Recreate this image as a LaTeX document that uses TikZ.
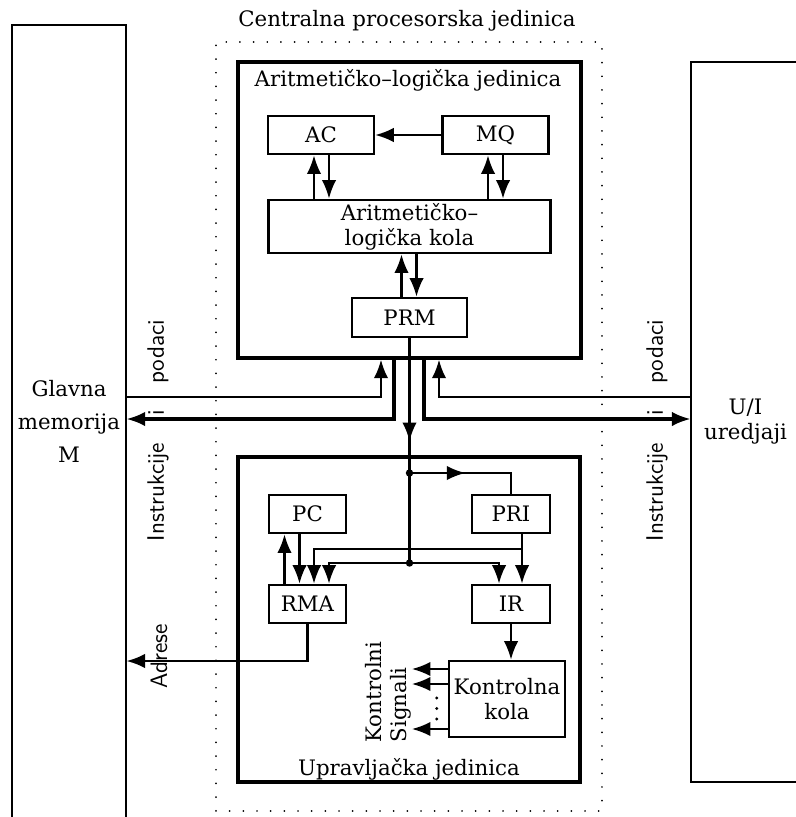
\documentclass[tikz,border=0pt]{standalone}
\usepackage{fontspec}
\setmainfont{DejaVu Serif}
\usetikzlibrary{arrows.meta}
\newcommand\pxu{0.017cm}
\tikzset{
  box/.style 2 args={draw, line width=1.2pt, inner sep=0pt, align=center, minimum width=#1*\pxu, minimum height=#2*\pxu},
  bigbox/.style 2 args={draw, line width=1.5pt, inner sep=0pt, minimum width=#1*\pxu, minimum height=#2*\pxu},
  dotbox/.style 2 args={draw, line width=0.9pt, dash pattern=on 0.01pt off 6.6pt, line cap=round, inner sep=0pt, minimum width=#1*\pxu, minimum height=#2*\pxu},
  memframe/.style 2 args={inner sep=0pt, align=center, minimum width=#1*\pxu, minimum height=#2*\pxu},
  arr/.style={line width=1.2pt, -{Latex[length=9pt,width=7pt]}},
  wire/.style={line width=1.2pt},
  memline/.style={line width=1pt},
  lbl/.style={inner sep=0pt},
  vlbl/.style={inner sep=0pt, rotate=90, font=\sffamily\fontsize{11.5}{13.8}\selectfont},
  every node/.append style={font=\fontsize{10.3}{12}\selectfont},
}
\begin{document}
\begin{tikzpicture}[x=\pxu,y=-\pxu]
\useasboundingbox (0,0) rectangle (796,817);
% memory and I/O
\node[memframe={114}{792}] (MEM) at (69,421) {Glavna\\[4pt]memorija\\[4pt]M};
\draw[memline] (MEM.south west) -- (MEM.north west) -- (MEM.north east) -- (MEM.south east);
\node[memframe={109}{720}] (IO) at (745.5,422) {U/I\\uredjaji};
\draw[memline] (IO.north east) -- (IO.north west) -- (IO.south west) -- (IO.south east);
% CPU
\node[dotbox={386}{769}] (CPU) at (409,426.5) {};
\node[lbl] (cput) at (407,21) {Centralna procesorska jedinica};
% ALU
\node[bigbox={343}{296}] (ALU) at (409.5,210) {};
\node[lbl] (alut) at (408,80) {Aritmetičko–logička jedinica};
\node[box={106}{38}] (AC) at (321,135) {AC};
\node[box={106}{38}] (MQ) at (495.5,135) {MQ};
\node[box={282}{53}] (ALC) at (409.5,226.5) {Aritmetičko–\\logička kola};
\node[box={115}{39}] (PRM) at (409.5,317.5) {PRM};
% CU
\node[bigbox={342}{325}] (CU) at (409,619.5) {};
\node[lbl] (cut) at (409,769) {Upravljačka jedinica};
\node[box={77}{38}] (PC) at (307.5,514) {PC};
\node[box={78}{38}] (PRI) at (511,514) {PRI};
\node[box={77}{38}] (RMA) at (307.5,604) {RMA};
\node[box={78}{38}] (IR) at (511,604) {IR};
\node[box={116}{76}] (KK) at (507,699) {Kontrolna\\kola};
\coordinate (j1) at (409.5,473);
\coordinate (j2) at (409.5,563);
% ALU connectors
\draw[arr, line width=1pt] (MQ.west) -- (AC.east);
\draw[arr] ([xshift=-95.5*\pxu]ALC.north) -- ([xshift=-7*\pxu]AC.south);
\draw[arr] ([xshift=8*\pxu]AC.south) -- ([xshift=-80.5*\pxu]ALC.north);
\draw[arr] ([xshift=78.5*\pxu]ALC.north) -- ([xshift=-7.5*\pxu]MQ.south);
\draw[arr] ([xshift=7.5*\pxu]MQ.south) -- ([xshift=93.5*\pxu]ALC.north);
\draw[arr] ([xshift=-8*\pxu]PRM.north) -- ([xshift=-8*\pxu]ALC.south);
\draw[arr] ([xshift=7*\pxu]ALC.south) -- ([xshift=7*\pxu]PRM.north);
% bus
\draw[arr] ([yshift=24*\pxu]MEM.east) -| ([xshift=-28.5*\pxu]ALU.south);
\draw[arr] ([yshift=25*\pxu]IO.west) -| ([xshift=29.5*\pxu]ALU.south);
\draw[arr, line width=1.5pt] ([xshift=-15.5*\pxu]ALU.south) |- ([yshift=2*\pxu]MEM.east);
\draw[arr, line width=1.5pt] ([xshift=14.5*\pxu]ALU.south) |- ([yshift=3*\pxu]IO.west);
\draw[wire] (PRM.south) -- (j2);
\draw[arr] (PRM.south) -- ++(0,103);
% CU connectors
\draw[arr] (j1) -- ++(56,0);
\draw[wire] (j1) -| (PRI.north);
\draw[arr] ([xshift=11*\pxu]PRI.south) -- ([xshift=11*\pxu]IR.north);
\draw[arr] ([xshift=11*\pxu,yshift=-15*\pxu]PRI.south) -| ([xshift=6.5*\pxu]RMA.north);
\draw[arr] (j2) -| ([xshift=21.5*\pxu]RMA.north);
\draw[arr] (j2) -| ([xshift=-12*\pxu]IR.north);
\draw[arr] ([xshift=-23*\pxu]RMA.north) -- ([xshift=-23*\pxu]PC.south);
\draw[arr] ([xshift=-8*\pxu]PC.south) -- ([xshift=-8*\pxu]RMA.north);
\draw[arr] (IR.south) -- ([xshift=4*\pxu]KK.north);
\draw[arr] (RMA.south) |- ([yshift=-240*\pxu]MEM.east);
\draw[arr] ([yshift=30*\pxu]KK.west) -- ++(-36,0);
\draw[arr] ([yshift=15*\pxu]KK.west) -- ++(-36,0);
\draw[arr] ([yshift=-30*\pxu]KK.west) -- ++(-36,0);
\fill ([xshift=-11*\pxu,yshift=1*\pxu]KK.west) circle (0.8pt);
\fill ([xshift=-11*\pxu,yshift=-9.5*\pxu]KK.west) circle (0.8pt);
\fill ([xshift=-11*\pxu,yshift=-20*\pxu]KK.west) circle (0.8pt);
\fill (j1) circle (1.8pt);
\fill (j2) circle (1.8pt);
% labels
\node[lbl, rotate=90, align=left] (ks) at (388.5,692) {Kontrolni\\Signali};
\node[vlbl] (adr) at (159,656) {Adrese};
\node[vlbl] (il) at (158,430.5) {\makebox[3.76cm][s]{Instrukcije i podaci}};
\node[vlbl] (irl) at (657,430.5) {\makebox[3.76cm][s]{Instrukcije i podaci}};
\end{tikzpicture}
\end{document}
